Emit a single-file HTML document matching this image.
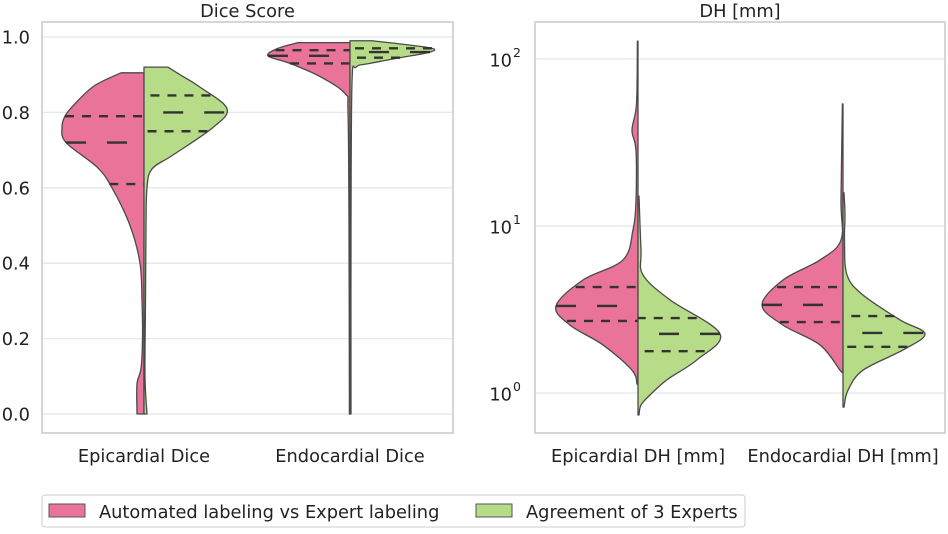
<!DOCTYPE html>
<html><head><meta charset="utf-8"><style>
body{margin:0;background:#fff}
svg text{font-family:"DejaVu Sans","Liberation Sans",sans-serif;fill:#222}
</style></head><body>
<svg id="chart" width="948" height="529" viewBox="0 0 948 529">
<rect x="0" y="0" width="948" height="529" fill="#fff"/>
<g id="left"></g>
<g id="right"></g>
<g>
<rect x="42" y="495" width="703" height="32" rx="3" fill="#fff" stroke="#ccc" stroke-width="1"/>
<rect x="49" y="504" width="36" height="13" fill="#ea7399" stroke="#555"/>
<text x="99" y="518" font-size="17.8">Automated labeling vs Expert labeling</text>
<rect x="476" y="504" width="36" height="13" fill="#b6dc88" stroke="#555"/>
<text x="526" y="518" font-size="17.8">Agreement of 3 Experts</text>
</g>
</svg>
<script>
// ---- Dice panel data ----
const diceCategories = ["Epicardial Dice", "Endocardial Dice"];
const diceTicks = [0.0, 0.2, 0.4, 0.6, 0.8, 1.0];
const diceEpiAutoVals = [0.905,0.87,0.82,0.79,0.76,0.72,0.655,0.6,0.5,0.4,0.3,0.2,0.12,0.08,0.0];
const diceEpiAutoDens = [23,50,70,79,82,78,47,32,14,4,2,1.5,3,7,7];
const diceEpiExpVals = [0.92,0.90,0.867,0.81,0.76,0.687,0.65,0.6,0.5,0.3,0.1,0.0];
const diceEpiExpDens = [24,36,56,83,69,29,8,3,2,1.5,1,3];
const diceEndoAutoVals = [0.985,0.97,0.95,0.93,0.895,0.85,0.8,0.5,0.0];
const diceEndoAutoDens = [52,72,82,60,30,5,2,1,0.6];
const diceEndoExpVals = [0.99,0.98,0.97,0.96,0.945,0.93,0.92,0.88,0.5,0.0];
const diceEndoExpDens = [22,55,82,80,50,20,6,2,1,1];
const diceEpiAutoQ = [0.61,0.72,0.79];
const diceEpiExpQ = [0.75,0.80,0.845];
const diceEndoAutoQ = [0.93,0.95,0.965];
const diceEndoExpQ = [0.945,0.96,0.97];
// ---- DH panel data ----
const dhCategories = ["Epicardial DH [mm]", "Endocardial DH [mm]"];
const dhTicks = [0, 1, 2];
const dhEpiAutoVals = [128,53.8,37.6,28.5,14.3,9.5,6.26,4.75,3.32,2.55,1.94,1.37,1.13];
const dhEpiAutoDens = [0.6,1.5,6,2,2,5,15,55,82,68,35,6,1];
const dhEpiExpVals = [15.1,7.18,5.09,3.61,2.26,1.58,1.20,0.973,0.848,0.738];
const dhEpiExpDens = [1,3,5,32,82,59,29,12,3,1];
const dhEndoAutoVals = [53.8,14.3,8.24,6.26,4.75,3.37,2.55,1.94,1.37,1.34];
const dhEndoAutoDens = [0.6,2,2,23,60,81,60,23,3,1];
const dhEndoExpVals = [15.8,11.6,8.24,5.09,3.86,2.74,2.26,1.81,1.37,1.04,0.824];
const dhEndoExpDens = [1,2,1.5,4,20,57,82,60,20,5,1];
const dhEpiAutoQ = [2.70,3.32,4.31];
const dhEpiExpQ = [1.78,2.26,2.81];
const dhEndoAutoQ = [2.66,3.37,4.31];
const dhEndoExpQ = [1.89,2.29,2.89];

const NS = "http://www.w3.org/2000/svg";
const PINK = "#ea7399", GREEN = "#b6dc88";
function mk(tag, attrs, parent){const e=document.createElementNS(NS,tag);for(const k in attrs)e.setAttribute(k,attrs[k]);parent.appendChild(e);return e;}

const L = {x0:42,x1:453,y0:22,y1:433, cx:[144,350]};
const R = {x0:535,x1:945,y0:22,y1:433, cx:[638,843]};
const yDice = v => 414 - v*377;
const yDH = v => 393 - Math.log10(v)*167;
const maxHW = 82, densMax = 82;
const wScale = d => d/densMax*maxHW;
const FS = 17.8;

function smoothPath(pts){
  let d = "M"+pts[0][0]+","+pts[0][1];
  for(let i=0;i<pts.length-1;i++){
    const p0=pts[Math.max(0,i-1)],p1=pts[i],p2=pts[i+1],p3=pts[Math.min(pts.length-1,i+2)];
    const c1=[p1[0]+(p2[0]-p0[0])/6,p1[1]+(p2[1]-p0[1])/6];
    const c2=[p2[0]-(p3[0]-p1[0])/6,p2[1]-(p3[1]-p1[1])/6];
    d+=" C"+c1[0].toFixed(2)+","+c1[1].toFixed(2)+" "+c2[0].toFixed(2)+","+c2[1].toFixed(2)+" "+p2[0].toFixed(2)+","+p2[1].toFixed(2);
  }
  return d;
}
function hwAt(vals, dens, yf, v){
  const y=yf(v);
  for(let i=0;i<vals.length-1;i++){
    const ya=yf(vals[i]), yb=yf(vals[i+1]);
    if(y>=ya && y<=yb){const t=(y-ya)/(yb-ya||1);return wScale(dens[i]+(dens[i+1]-dens[i])*t);}
  }
  return 0;
}
function half(g, cx, vals, dens, qs, yf, side, color, name){
  const pts = vals.map((v,i)=>[cx+side*wScale(dens[i]), yf(v)]);
  let d = "M"+cx+","+yf(vals[0])+" L"+smoothPath(pts).slice(1)+" L"+cx+","+yf(vals[vals.length-1])+" Z";
  const p = mk("path",{d:d,fill:color,stroke:"#4a4a4a","stroke-width":1.3,"stroke-linejoin":"round"},g);
  
  
  qs.forEach((q,i)=>{
    const hw = hwAt(vals,dens,yf,q);
    const y = yf(q);
    const x1 = cx+side*hw;
    const ln = mk("line",{x1:x1,y1:y,x2:cx,y2:y,stroke:"#333","stroke-width":2.4,"stroke-dasharray":i===1?"20,21":"9,8"},g);
    
    
  });
}
function frame(g, A, title, tname){
  const t = mk("text",{x:(A.x0+A.x1)/2,y:17,"font-size":FS,"text-anchor":"middle"},g);
  t.textContent = title;
  
  
}
const gl = document.getElementById("left");
frame(gl, L, "Dice Score", "dice-title");
diceTicks.forEach(v=>{
  const y=yDice(v);
  const gr=mk("line",{x1:L.x0,x2:L.x1,y1:y,y2:y,stroke:"#e1e8f0","stroke-width":1.3},gl);
  
  
  const t=mk("text",{x:30,y:y+6.5,"font-size":FS,"text-anchor":"end"},gl);
  t.textContent=v.toFixed(1);
  
  
});
half(gl,L.cx[0],diceEpiAutoVals,diceEpiAutoDens,diceEpiAutoQ,yDice,-1,PINK,"epi-dice-automated");
half(gl,L.cx[0],diceEpiExpVals,diceEpiExpDens,diceEpiExpQ,yDice,1,GREEN,"epi-dice-experts");
half(gl,L.cx[1],diceEndoAutoVals,diceEndoAutoDens,diceEndoAutoQ,yDice,-1,PINK,"endo-dice-automated");
half(gl,L.cx[1],diceEndoExpVals,diceEndoExpDens,diceEndoExpQ,yDice,1,GREEN,"endo-dice-experts");
mk("rect",{x:L.x0,y:L.y0,width:L.x1-L.x0,height:L.y1-L.y0,fill:"none",stroke:"#ccc","stroke-width":1.6},gl);
diceCategories.forEach((c,i)=>{
  const t=mk("text",{x:L.cx[i],y:462,"font-size":FS,"text-anchor":"middle"},gl);
  t.textContent=c;
  
  
});
const gr2 = document.getElementById("right");
frame(gr2, R, "DH [mm]", "dh-title");
dhTicks.forEach(e=>{
  const y=yDH(Math.pow(10,e));
  const gl2=mk("line",{x1:R.x0,x2:R.x1,y1:y,y2:y,stroke:"#e1e8f0","stroke-width":1.3},gr2);
  
  
  const t=mk("text",{x:512,y:y+7.5,"font-size":FS,"text-anchor":"end"},gr2);
  t.textContent="10";
  
  
  const s=mk("text",{x:513,y:y-2,"font-size":12.5},gr2);
  s.textContent=String(e);
  
  
});
half(gr2,R.cx[0],dhEpiAutoVals,dhEpiAutoDens,dhEpiAutoQ,yDH,-1,PINK,"epi-dh-automated");
half(gr2,R.cx[0],dhEpiExpVals,dhEpiExpDens,dhEpiExpQ,yDH,1,GREEN,"epi-dh-experts");
half(gr2,R.cx[1],dhEndoAutoVals,dhEndoAutoDens,dhEndoAutoQ,yDH,-1,PINK,"endo-dh-automated");
half(gr2,R.cx[1],dhEndoExpVals,dhEndoExpDens,dhEndoExpQ,yDH,1,GREEN,"endo-dh-experts");
mk("rect",{x:R.x0,y:R.y0,width:R.x1-R.x0,height:R.y1-R.y0,fill:"none",stroke:"#ccc","stroke-width":1.6},gr2);
dhCategories.forEach((c,i)=>{
  const t=mk("text",{x:R.cx[i],y:462,"font-size":FS,"text-anchor":"middle"},gr2);
  t.textContent=c;
  
  
});
</script>
</body></html>
